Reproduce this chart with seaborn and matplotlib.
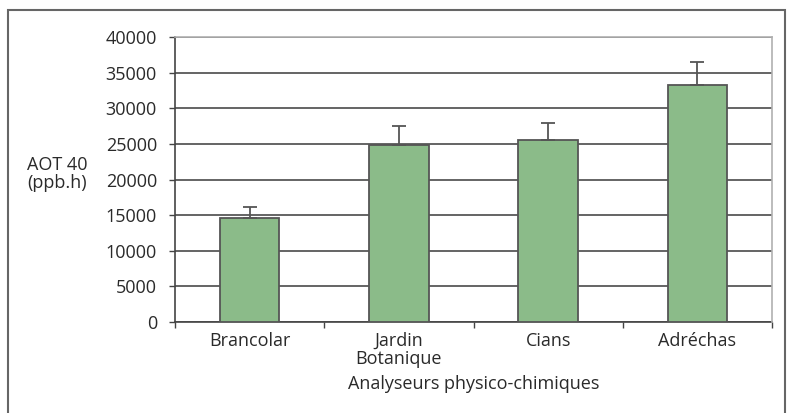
import numpy as np
import pandas as pd
import seaborn as sns
import matplotlib.pyplot as plt
from matplotlib.patches import Rectangle

# values
sites = ['Brancolar', 'Jardin\nBotanique', 'Cians', 'Adréchas']
aot40 = [14600, 24900, 25500, 33300]
err_up = [1500, 2600, 2500, 3200]
yticks = [0, 5000, 10000, 15000, 20000, 25000, 30000, 35000, 40000]

sns.set_style('white')
plt.rcParams['font.family'] = ['Open Sans', 'DejaVu Sans']
fs = 13
tc = '#2a2a2a'

dt = pd.DataFrame({'site': sites, 'aot': aot40})

fig = plt.figure(figsize=(7.93, 4.13), dpi=100)
ax = fig.add_axes([0.2207, 0.2203, 0.9735 - 0.2207, 0.9104 - 0.2203])

sns.barplot(data=dt, x='site', y='aot', color='#8bbb89', saturation=1, width=0.4,
            edgecolor='#555555', linewidth=1.3, errorbar=None, ax=ax, zorder=3)
xs = np.arange(len(sites))
ax.errorbar(xs, aot40, yerr=[np.zeros(len(sites)), err_up], fmt='none',
            ecolor='#555555', elinewidth=1.3, capsize=5, capthick=1.3, zorder=4)

ax.set_ylim(0, 40000)
ax.set_xlim(-0.5, len(sites) - 0.5)
ax.set_yticks(yticks)
ax.set_yticklabels([str(t) for t in yticks], fontsize=fs, color=tc)
ax.set_xticks(xs)
ax.set_xticklabels(sites, fontsize=fs, color=tc, linespacing=1.05)
ax.tick_params(axis='x', length=0, pad=7)
ax.tick_params(axis='y', length=4, width=1, color='#444444', left=True, pad=9)
# category boundary ticks on x axis
ax.set_xticks(np.arange(-0.5, len(sites), 1.0), minor=True)
ax.tick_params(axis='x', which='minor', length=4, width=1, color='#444444', bottom=True)

ax.yaxis.grid(True, color='#3a3a3a', linewidth=1.1, zorder=0)
ax.set_axisbelow(True)
ax.set_xlabel('Analyseurs physico-chimiques', fontsize=fs, color=tc, labelpad=5)
ax.set_ylabel('')
for s in ['left', 'bottom']:
    ax.spines[s].set_color('#444444')
    ax.spines[s].set_linewidth(1.2)
for s in ['top', 'right']:
    ax.spines[s].set_visible(True)
    ax.spines[s].set_color('#b0b0b0')
    ax.spines[s].set_linewidth(1.2)
    ax.spines[s].set_zorder(5)

fig.text(27 / 793, 1 - 174 / 413, 'AOT 40\n(ppb.h)', fontsize=fs, color=tc,
         ha='left', va='center', linespacing=1.0)

# outer frame, open at the bottom
fig.patches.append(Rectangle((8 / 793, -0.05), (785 - 8) / 793, 1.05 - 10 / 413,
                             transform=fig.transFigure, fill=False,
                             edgecolor='#666666', linewidth=1.5))

fig.savefig('out.png', dpi=100)
